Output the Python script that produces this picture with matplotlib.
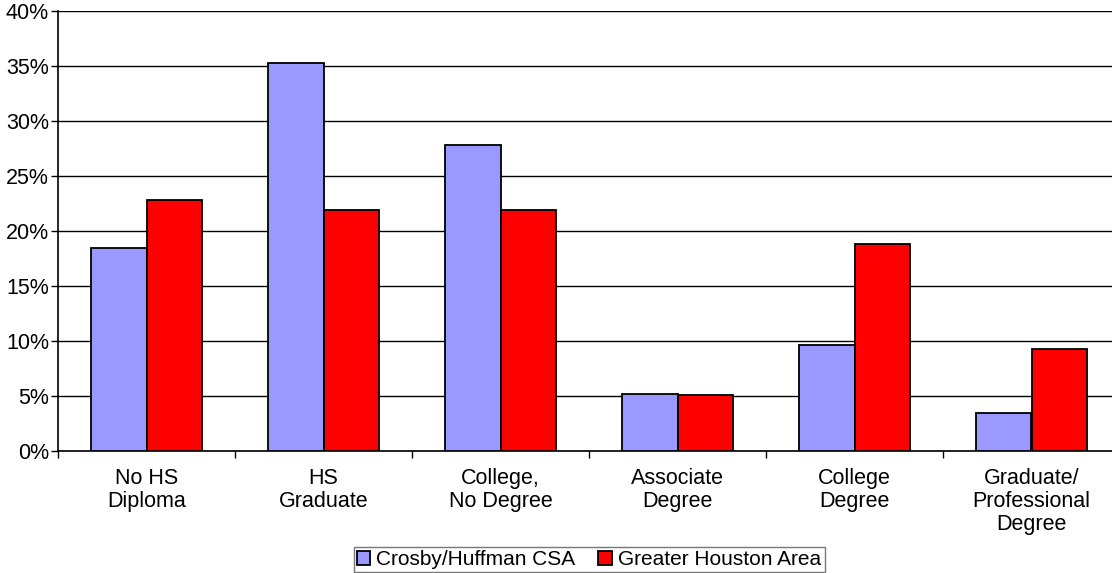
import matplotlib
matplotlib.use("Agg")
import matplotlib.pyplot as plt
import numpy as np
from matplotlib.ticker import FuncFormatter, MultipleLocator

plt.rcParams['font.family'] = ['Liberation Sans', 'DejaVu Sans']

categories = ["No HS\nDiploma", "HS\nGraduate", "College,\nNo Degree",
              "Associate\nDegree", "College\nDegree", "Graduate/\nProfessional\nDegree"]
crosby = [18.5, 35.3, 27.8, 5.15, 9.6, 3.5]
houston = [22.8, 21.9, 21.9, 5.05, 18.8, 9.25]
series_names = ["Crosby/Huffman CSA", "Greater Houston Area"]

fig = plt.figure(figsize=(11.12, 5.73), dpi=100)
ax = fig.add_axes([58/1112, 122/573, 1062/1112, 440/573])

x = np.arange(len(categories))
w = 0.316
ax.bar(x - w/2, crosby, w, color='#9999FF', edgecolor='black', linewidth=1.3,
       label=series_names[0], zorder=3)
ax.bar(x + w/2, houston, w, color='#FF0000', edgecolor='black', linewidth=1.3,
       label=series_names[1], zorder=3)

ax.set_xlim(-0.5, len(categories) - 0.5)
ax.set_ylim(0, 40)
ax.yaxis.set_major_locator(MultipleLocator(5))
ax.yaxis.set_major_formatter(FuncFormatter(lambda v, p: f"{v:.0f}%"))
ax.grid(axis='y', color='black', linewidth=1.0, zorder=0)

ax.set_xticks(x)
ax.set_xticklabels(categories, fontsize=15.5, linespacing=1.12)
ax.set_xticks(np.arange(len(categories) + 1) - 0.5, minor=True)
ax.tick_params(axis='x', which='major', length=0, pad=12)
ax.tick_params(axis='x', which='minor', length=5, width=1, direction='out')
ax.tick_params(axis='y', length=5, width=1, labelsize=15.5, pad=1.5)

for s in ['top', 'right']:
    ax.spines[s].set_visible(False)
ax.spines['left'].set_linewidth(1.2)
ax.spines['bottom'].set_linewidth(1.2)
ax.axhline(40, color='#999999', linewidth=1.5, zorder=1)

leg = ax.legend(loc='upper center', bbox_to_anchor=(0.5, -0.218), ncol=2,
                fontsize=15, frameon=True, fancybox=False, handlelength=0.65,
                handleheight=0.65, handletextpad=0.3, columnspacing=1.1,
                borderpad=0.15, borderaxespad=0)
leg.get_frame().set_edgecolor('#555555')
leg.get_frame().set_linewidth(1.0)

fig.savefig("out.png", dpi=100)
